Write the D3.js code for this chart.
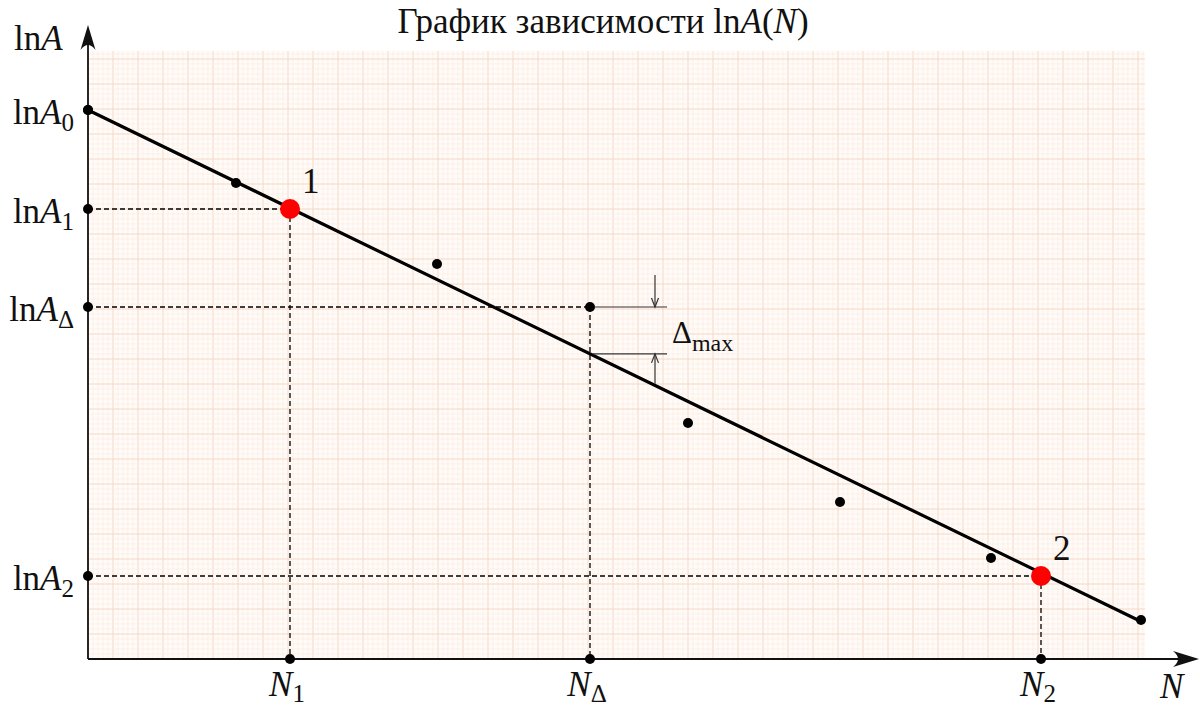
<!DOCTYPE html>
<html>
<head>
<meta charset="utf-8">
<script src="https://cdn.jsdelivr.net/npm/d3@7"></script>
<style>
body { margin: 0; background: #fff; }
text { font-family: "Liberation Serif", "Times New Roman", serif; fill: #111; }
</style>
</head>
<body>
<div id="chart"></div>
<script>
// measured points (N, lnA)
var nValues = [0, 2.96, 6.98, 10.04, 12.0, 15.04, 18.06, 21.06];
var lnAValues = [10.98, 9.52, 7.90, 7.04, 4.72, 3.14, 2.02, 0.78];

// ends of the straight line drawn through the points
var fitN = [0, 21.08];
var fitLnA = [10.98, 0.74];

// the two points taken from the line
var pointNames = ["1", "2"];
var pointN = [4.04, 19.06];
var pointLnA = [9.0, 1.66];

// point with the largest deviation
var deltaN = 10.04;
var deltaLnA = 7.04;

// axis marks
var yTickValues = [10.98, 9.0, 7.04, 1.66];
var yTickSubs = ["0", "1", "\u0394", "2"];
var xTickValues = [4.04, 10.04, 19.06];
var xTickSubs = ["1", "\u0394", "2"];

var svgWidth = 1200;
var svgHeight = 710;

var svg = d3.select("#chart").append("svg")
    .attr("width", svgWidth).attr("height", svgHeight);

var xScale = d3.scaleLinear().domain([0, 21.14]).range([88, 1145]);
var yScale = d3.scaleLinear().domain([0, 12.16]).range([659, 51]);

function fitAt(n) {
    return fitLnA[0] + (fitLnA[1] - fitLnA[0]) * (n - fitN[0]) / (fitN[1] - fitN[0]);
}

// millimetre paper
var gridG = svg.append("g");
gridG.append("rect")
    .attr("x", xScale(0)).attr("y", yScale(12.16))
    .attr("width", xScale(21.14) - xScale(0))
    .attr("height", yScale(0) - yScale(12.16))
    .attr("fill", "#fffbf8");

var xGrid = d3.range(0, 212);
var yGrid = d3.range(0, 122);

gridG.selectAll(".vgrid").data(xGrid).enter().append("line")
    .attr("x1", i => xScale(i * 0.1)).attr("x2", i => xScale(i * 0.1))
    .attr("y1", yScale(0)).attr("y2", yScale(12.16))
    .attr("stroke", i => i % 5 == 0 ? "#f5d8c3" : "#fcede3")
    .attr("stroke-width", i => i % 5 == 0 ? 1 : 0.7);

gridG.selectAll(".hgrid").data(yGrid).enter().append("line")
    .attr("y1", i => yScale(i * 0.1)).attr("y2", i => yScale(i * 0.1))
    .attr("x1", xScale(0)).attr("x2", xScale(21.14))
    .attr("stroke", i => i % 5 == 0 ? "#f5d8c3" : "#fcede3")
    .attr("stroke-width", i => i % 5 == 0 ? 1 : 0.7);

// dashed guides
var guideN = [pointN[0], deltaN, pointN[1]];
var guideLnA = [pointLnA[0], deltaLnA, pointLnA[1]];
var guides = svg.append("g")
    .attr("stroke", "#000").attr("stroke-width", 1.3)
    .attr("stroke-dasharray", "5,3").attr("fill", "none");
guideN.forEach(function(n, i) {
    guides.append("line")
        .attr("x1", xScale(0)).attr("x2", xScale(n))
        .attr("y1", yScale(guideLnA[i])).attr("y2", yScale(guideLnA[i]));
    guides.append("line")
        .attr("x1", xScale(n)).attr("x2", xScale(n))
        .attr("y1", yScale(guideLnA[i])).attr("y2", yScale(0));
});

// line through the points
svg.append("line")
    .attr("x1", xScale(fitN[0])).attr("y1", yScale(fitLnA[0]))
    .attr("x2", xScale(fitN[1])).attr("y2", yScale(fitLnA[1]))
    .attr("stroke", "#000").attr("stroke-width", 3.2)
    .attr("stroke-linecap", "round");

// deviation bracket
var bx = xScale(deltaN) + 65;
var yTop = yScale(deltaLnA);
var yBot = yScale(fitAt(deltaN));
var br = svg.append("g").attr("stroke", "#333").attr("stroke-width", 1.2).attr("fill", "none");
br.append("line").attr("x1", xScale(deltaN) + 5).attr("x2", bx + 12).attr("y1", yTop).attr("y2", yTop);
br.append("line").attr("x1", xScale(deltaN) + 3).attr("x2", bx + 12).attr("y1", yBot).attr("y2", yBot);
br.append("line").attr("x1", bx).attr("x2", bx).attr("y1", yTop - 32).attr("y2", yTop);
br.append("line").attr("x1", bx).attr("x2", bx).attr("y1", yBot).attr("y2", yBot + 30);
br.append("path").attr("d", `M${bx - 3.5},${yTop - 9}L${bx},${yTop}L${bx + 3.5},${yTop - 9}`);
br.append("path").attr("d", `M${bx - 3.5},${yBot + 9}L${bx},${yBot}L${bx + 3.5},${yBot + 9}`);

var dLabel = svg.append("text").attr("x", bx + 17).attr("y", yTop + 36).attr("font-size", 31);
dLabel.append("tspan").text("\u0394");
dLabel.append("tspan").attr("font-size", 24).attr("dy", 8).text("max");

// axes
var axes = svg.append("g");
axes.append("line")
    .attr("x1", xScale(0)).attr("x2", 1192)
    .attr("y1", yScale(0)).attr("y2", yScale(0))
    .attr("stroke", "#111").attr("stroke-width", 1.8);
axes.append("line")
    .attr("x1", xScale(0)).attr("x2", xScale(0))
    .attr("y1", yScale(0)).attr("y2", 32)
    .attr("stroke", "#111").attr("stroke-width", 1.8);
var x0 = xScale(0), y0 = yScale(0);
axes.append("path")
    .attr("d", `M${x0},25L${x0 - 7.5},50Q${x0},40 ${x0 + 7.5},50Z`)
    .attr("fill", "#111");
axes.append("path")
    .attr("d", `M1199,${y0}L1173,${y0 - 8}Q1183,${y0} 1173,${y0 + 8}Z`)
    .attr("fill", "#111");

// measured points
svg.selectAll(".pt").data(nValues).enter().append("circle")
    .attr("cx", d => xScale(d))
    .attr("cy", (d, i) => yScale(lnAValues[i]))
    .attr("r", 5).attr("fill", "#000");

// marks on the axes
svg.selectAll(".ytick").data(yTickValues).enter().append("circle")
    .attr("cx", xScale(0)).attr("cy", d => yScale(d))
    .attr("r", 5).attr("fill", "#000");
svg.selectAll(".xtick").data(xTickValues).enter().append("circle")
    .attr("cx", d => xScale(d)).attr("cy", yScale(0))
    .attr("r", 5).attr("fill", "#000");

// chosen points
svg.selectAll(".red").data(pointN).enter().append("circle")
    .attr("cx", d => xScale(d))
    .attr("cy", (d, i) => yScale(pointLnA[i]))
    .attr("r", 10).attr("fill", "#ff0000");
svg.selectAll(".redlabel").data(pointNames).enter().append("text")
    .attr("x", (d, i) => xScale(pointN[i]) + 12)
    .attr("y", (d, i) => yScale(pointLnA[i]) - 16)
    .attr("font-size", 35)
    .text(d => d);

// y tick labels
yTickValues.forEach(function(v, i) {
    var t = svg.append("text")
        .attr("x", 74).attr("y", yScale(v) + 14)
        .attr("text-anchor", "end").attr("font-size", 35);
    t.append("tspan").text("ln");
    t.append("tspan").attr("font-style", "italic").text("A");
    t.append("tspan").attr("font-size", 25).attr("dy", 7).text(yTickSubs[i]);
});

// x tick labels
xTickValues.forEach(function(v, i) {
    var t = svg.append("text")
        .attr("x", xScale(v) - 3).attr("y", 696)
        .attr("text-anchor", "middle").attr("font-size", 35);
    t.append("tspan").attr("font-style", "italic").text("N");
    t.append("tspan").attr("font-size", 25).attr("dy", 6).text(xTickSubs[i]);
});

// axis names
var yName = svg.append("text").attr("x", 14).attr("y", 50).attr("font-size", 35);
yName.append("tspan").text("ln");
yName.append("tspan").attr("font-style", "italic").text("A");

svg.append("text").attr("x", 1160).attr("y", 698).attr("font-size", 35)
    .attr("font-style", "italic").text("N");

// title
var title = svg.append("text").attr("x", 603).attr("y", 33)
    .attr("text-anchor", "middle").attr("font-size", 35);
title.append("tspan").text("График зависимости ln");
title.append("tspan").attr("font-style", "italic").text("A");
title.append("tspan").text("(");
title.append("tspan").attr("font-style", "italic").text("N");
title.append("tspan").text(")");
</script>
</body>
</html>
